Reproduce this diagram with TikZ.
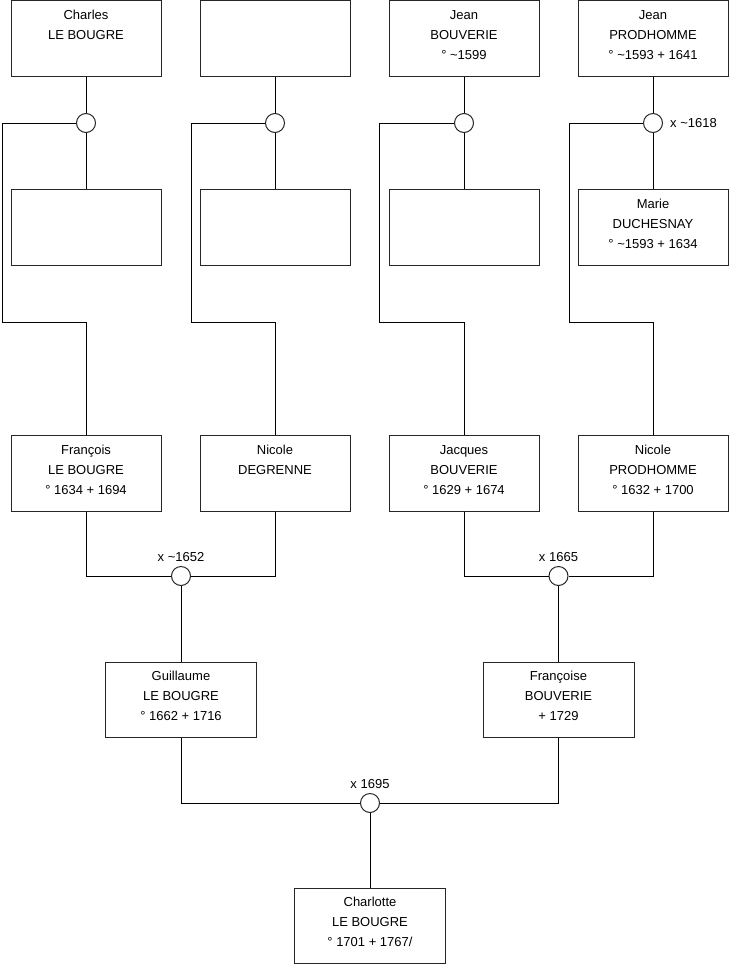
\documentclass[tikz,border=0pt]{standalone}
\usepackage{fontspec}
\setmainfont{Liberation Sans}
\usetikzlibrary{positioning}

% three lines of a person box
\newcommand{\pers}[3]{\strut#1\\\strut#2\\\strut#3\rule[-12pt]{0pt}{12pt}}

\begin{document}
\begin{tikzpicture}[x=1pt, y=-1pt,
    person/.style={draw=black!85, line width=1pt, minimum width=150pt, minimum height=76pt,
      inner sep=0pt, align=center, font=\fontsize{13}{20}\selectfont},
    wide/.style={minimum width=151pt, minimum height=75pt},
    union/.style={circle, draw=black!85, fill=white, line width=1pt, minimum size=19pt, inner sep=0pt},
    year/.style={font=\fontsize{13}{16}\selectfont, inner sep=1pt},
    link/.style={line width=1pt}]

    \useasboundingbox (0,0) rectangle (740,975);

    % Generation I: fathers
    \node[person] (p1) at (86,38.5) {\pers{Charles}{LE BOUGRE}{}};
    \node[person] (p2) at (275,38.5) {};
    \node[person] (p3) at (464,38.5) {\pers{Jean}{BOUVERIE}{° \textasciitilde1599}};
    \node[person] (p4) at (653,38.5) {\pers{Jean}{PRODHOMME}{° \textasciitilde1593 + 1641}};

    % Unions
    \foreach \i/\x in {1/86, 2/275, 3/464, 4/653}
        \node[union] (m\i) at (\x,123) {};
    \node[year, right=6pt of m4] (y4) {x \textasciitilde1618};

    % Generation I: mothers
    \node[person] (s1) at (86,227) {};
    \node[person] (s2) at (275,227) {};
    \node[person] (s3) at (464,227) {};
    \node[person] (s4) at (653,227) {\pers{Marie}{DUCHESNAY}{° \textasciitilde1593 + 1634}};

    % Generation II
    \node[person] (c1) at (86,473) {\pers{François}{LE BOUGRE}{° 1634 + 1694}};
    \node[person] (c2) at (275,473) {\pers{Nicole}{DEGRENNE}{}};
    \node[person] (c3) at (464,473) {\pers{Jacques}{BOUVERIE}{° 1629 + 1674}};
    \node[person] (c4) at (653,473) {\pers{Nicole}{PRODHOMME}{° 1632 + 1700}};

    % Descent lines
    \foreach \i/\x in {1/2, 2/191, 3/379, 4/569}
        \coordinate (k\i) at (\x,322);
    \foreach \i in {1,...,4} {
        \draw[link] (p\i) -- (m\i);
        \draw[link] (m\i) -- (s\i);
        \draw[link] (m\i.west) -| (k\i) -| (c\i.north);
    }

    % Generation III
    \node[union] (m5) at (181,576) {};
    \node[union] (m6) at (558.5,576) {};
    \draw[link] (c1.south) |- (m5.west);
    \draw[link] (c2.south) |- (m5.east);
    \draw[link] (c3.south) |- (m6.west);
    \draw[link] (c4.south) |- (m6.east);
    \node[year, above=3pt of m5] (y5) {x \textasciitilde1652};
    \node[year, above=3pt of m6] (y6) {x 1665};

    \node[person, wide] (g1) at (181,699.5) {\pers{Guillaume}{LE BOUGRE}{° 1662 + 1716}};
    \node[person, wide] (g2) at (558.5,699.5) {\pers{Françoise}{BOUVERIE}{+ 1729}};
    \draw[link] (m5) -- (g1);
    \draw[link] (m6) -- (g2);

    % Generation IV
    \node[union] (m7) at (370,803) {};
    \draw[link] (g1.south) |- (m7.west);
    \draw[link] (g2.south) |- (m7.east);
    \node[year, above=3pt of m7] (y7) {x 1695};

    \node[person, wide] (ch) at (370,925.5) {\pers{Charlotte}{LE BOUGRE}{° 1701 + 1767/}};
    \draw[link] (m7) -- (ch);
\end{tikzpicture}
\end{document}
